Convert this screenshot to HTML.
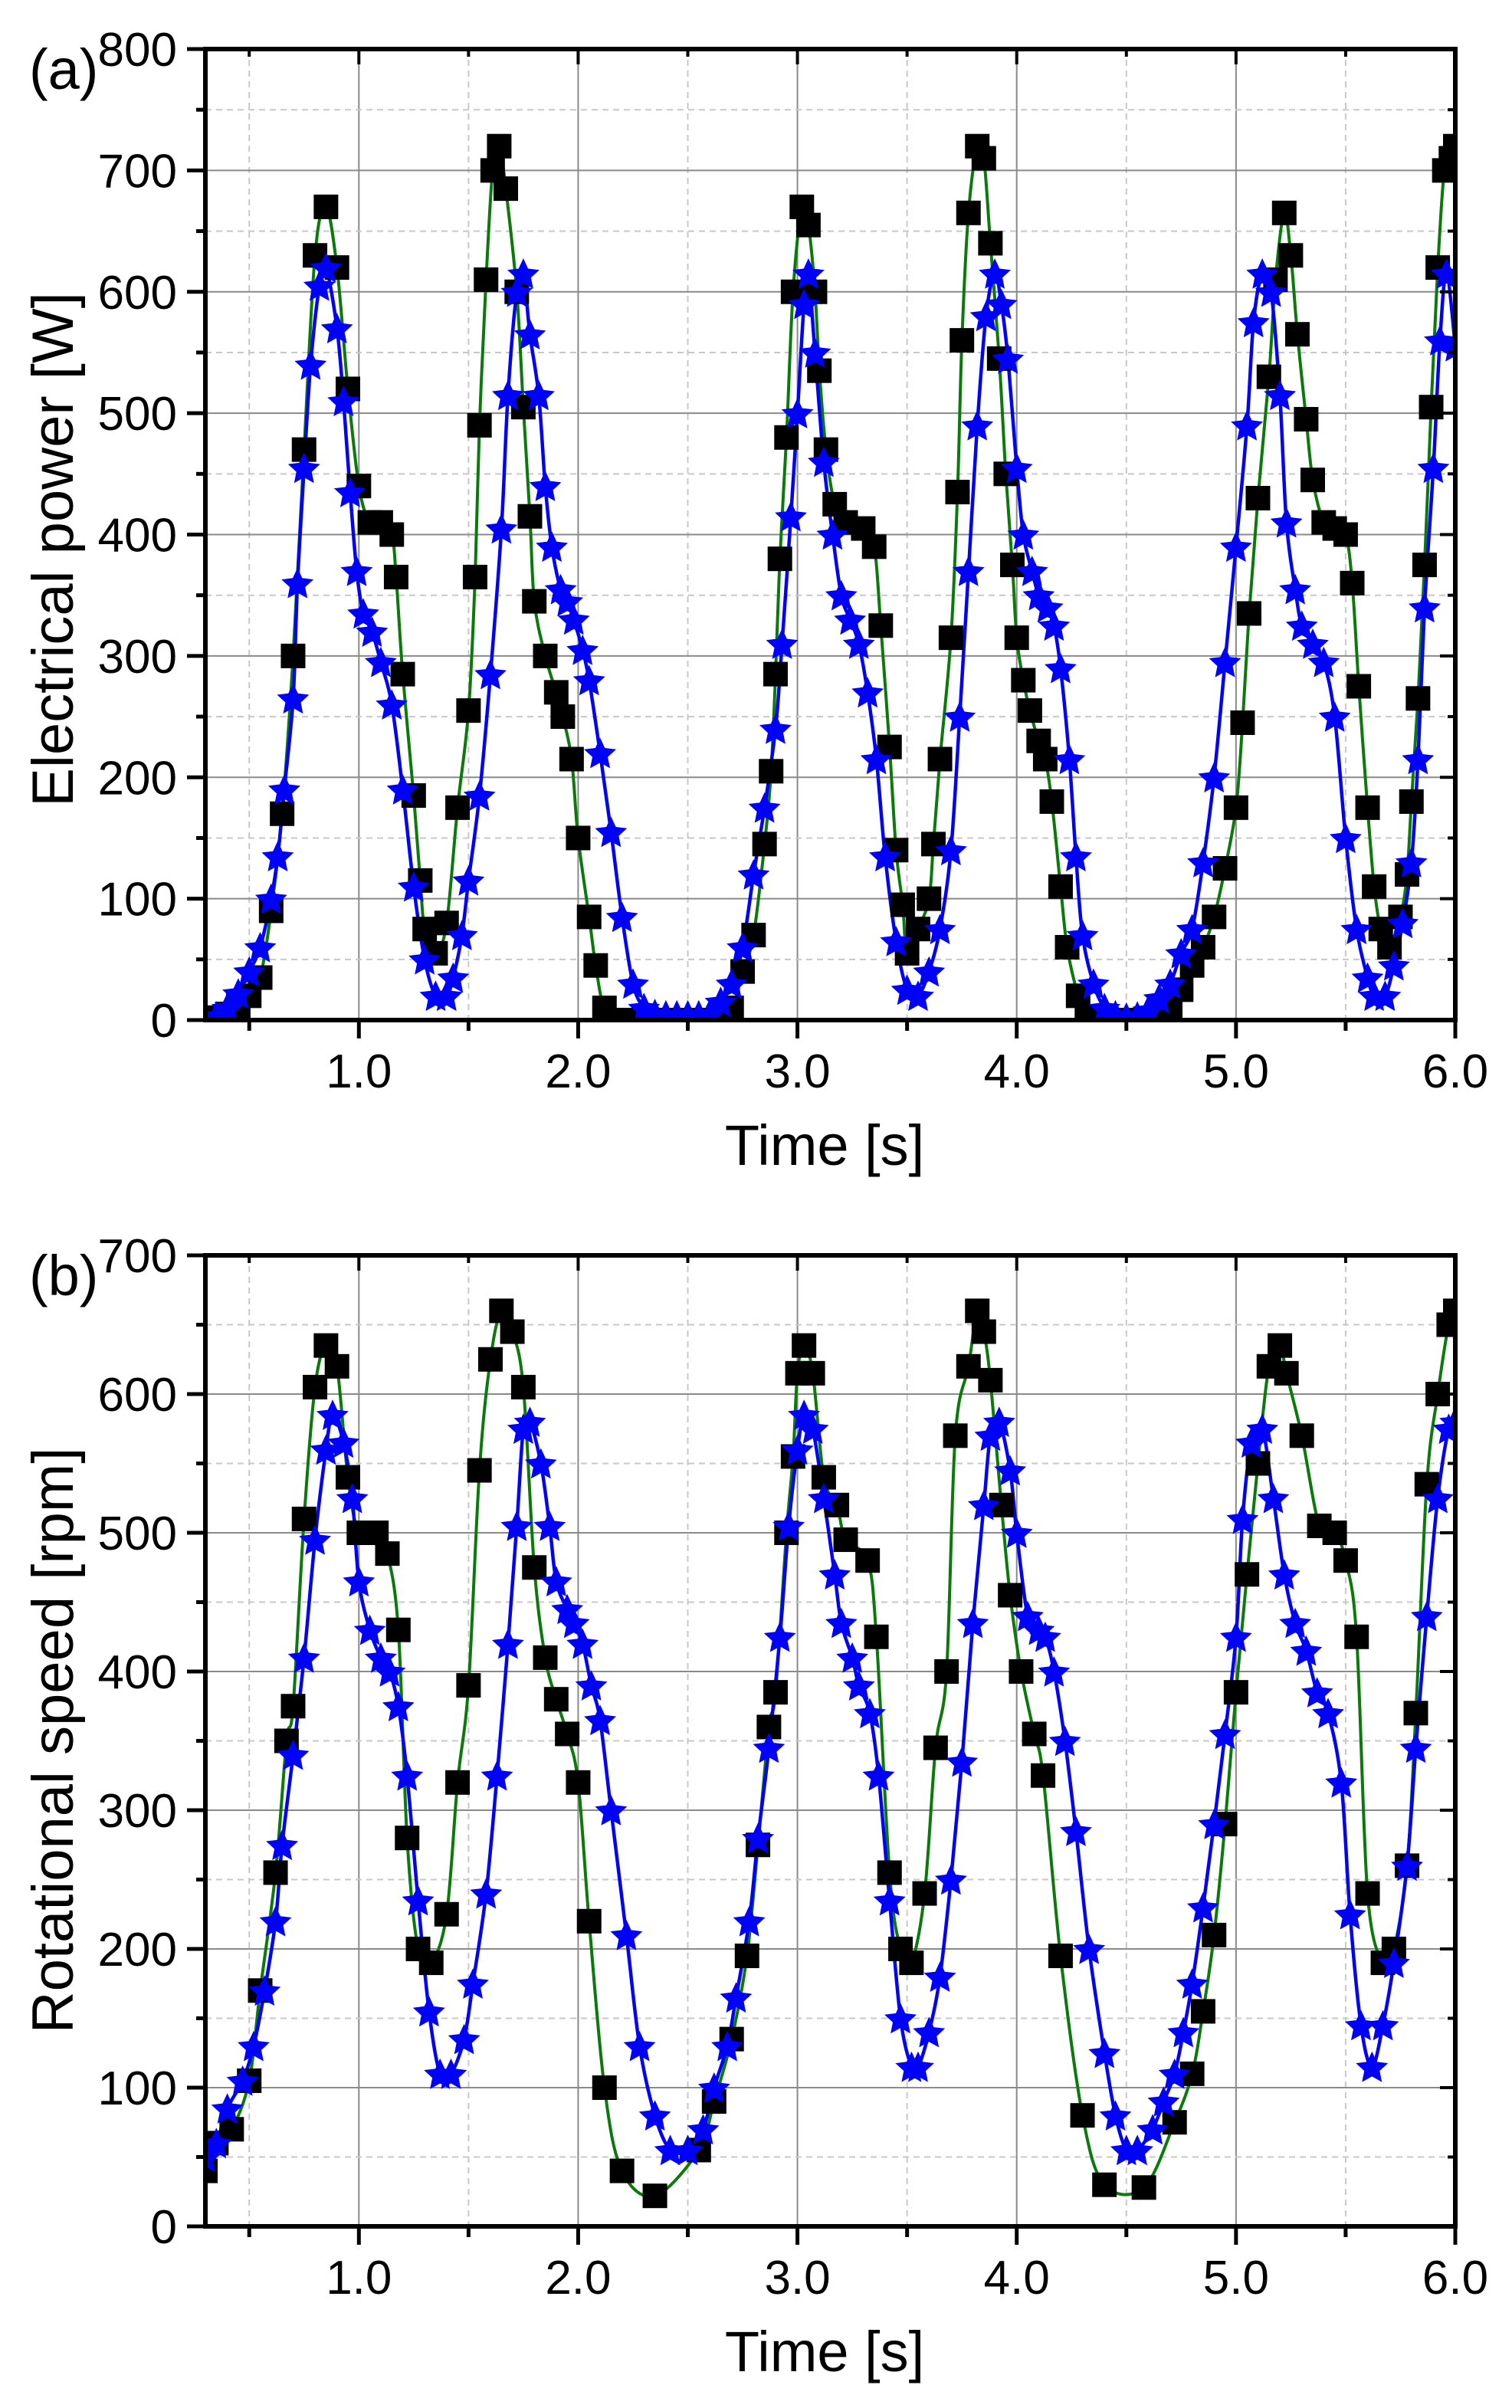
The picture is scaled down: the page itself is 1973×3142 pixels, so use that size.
<!DOCTYPE html>
<html><head><meta charset="utf-8">
<style>
html,body{margin:0;padding:0;background:#fff;}
svg{display:block;font-family:"Liberation Sans",Arial,sans-serif;}
</style></head>
<body>
<svg id="fig" width="1973" height="3142" viewBox="0 0 1973 3142" xmlns="http://www.w3.org/2000/svg">
<rect width="1973" height="3142" fill="#fff"/>
</svg>
<script>
// ---------- data ----------
const aSqT = [0.3,0.35,0.4,0.45,0.5,0.55,0.6,0.65,0.7,0.75,0.8,0.85,0.9,0.95,1.0,1.05,1.1,1.15,1.17,1.2,1.25,1.28,1.3,1.35,1.4,1.45,1.5,1.53,1.55,1.58,1.61,1.64,1.67,1.72,1.75,1.78,1.8,1.85,1.9,1.93,1.97,2.0,2.05,2.08,2.12,2.2,2.3,2.4,2.5,2.6,2.7,2.75,2.8,2.85,2.88,2.9,2.92,2.95,2.98,3.02,3.05,3.08,3.1,3.13,3.17,3.22,3.3,3.35,3.38,3.42,3.45,3.48,3.5,3.55,3.6,3.62,3.65,3.7,3.73,3.75,3.78,3.82,3.85,3.88,3.92,3.95,3.98,4.0,4.03,4.06,4.1,4.13,4.16,4.2,4.23,4.28,4.32,4.4,4.5,4.6,4.7,4.75,4.8,4.85,4.9,4.95,5.0,5.03,5.06,5.1,5.15,5.18,5.22,5.25,5.28,5.32,5.35,5.4,5.45,5.5,5.53,5.56,5.6,5.63,5.66,5.7,5.75,5.78,5.8,5.83,5.86,5.89,5.92,5.95,5.98,6.0];
const aSqV = [0,2,5,12,20,35,90,170,300,470,630,670,620,520,440,410,410,400,365,285,185,115,75,55,80,175,255,365,490,610,700,720,685,600,505,415,345,300,270,250,215,150,85,45,10,0,0,0,0,0,10,40,70,145,205,285,380,480,600,670,655,600,535,470,425,410,405,390,325,225,140,95,55,75,100,145,215,315,435,560,665,720,710,640,545,450,375,315,280,255,230,215,180,110,60,20,2,0,0,0,10,25,45,60,85,125,175,245,335,430,530,610,665,630,565,495,445,410,405,400,360,275,175,110,75,60,85,120,180,265,375,505,620,700,710,720];
const aStT = [0.3,0.35,0.4,0.45,0.5,0.55,0.6,0.63,0.66,0.7,0.72,0.75,0.78,0.82,0.85,0.9,0.93,0.96,0.99,1.02,1.06,1.1,1.15,1.2,1.25,1.3,1.35,1.4,1.43,1.47,1.5,1.55,1.6,1.65,1.68,1.72,1.75,1.78,1.82,1.85,1.88,1.92,1.95,1.98,2.02,2.05,2.1,2.15,2.2,2.25,2.3,2.35,2.4,2.45,2.5,2.55,2.6,2.65,2.7,2.75,2.8,2.85,2.9,2.93,2.97,3.0,3.03,3.05,3.08,3.12,3.16,3.2,3.24,3.28,3.32,3.36,3.4,3.45,3.5,3.55,3.6,3.65,3.7,3.74,3.78,3.82,3.86,3.9,3.93,3.96,4.0,4.03,4.07,4.1,4.14,4.17,4.2,4.24,4.27,4.3,4.35,4.4,4.45,4.5,4.55,4.6,4.65,4.7,4.75,4.8,4.85,4.9,4.95,5.0,5.05,5.08,5.12,5.16,5.2,5.23,5.27,5.3,5.35,5.4,5.45,5.5,5.55,5.6,5.63,5.68,5.72,5.76,5.8,5.83,5.86,5.9,5.93,5.96,6.0];
const aStV = [0,3,10,22,40,60,100,135,190,265,360,455,540,605,620,570,510,435,370,335,320,295,260,190,110,50,20,20,35,70,115,185,285,405,515,600,615,565,515,440,390,355,345,330,305,280,220,155,85,30,10,5,4,4,4,4,5,15,30,60,120,175,240,310,415,500,590,615,550,460,400,350,330,310,270,215,135,65,25,20,40,75,140,250,370,490,580,615,590,545,455,400,370,350,340,325,290,215,135,70,30,10,4,2,3,8,18,30,55,75,130,200,295,390,490,575,615,600,515,410,355,325,310,295,250,150,75,35,20,20,45,80,130,215,340,455,560,615,555];
const bSqT = [0.3,0.35,0.42,0.5,0.55,0.62,0.67,0.7,0.75,0.8,0.85,0.9,0.95,1.0,1.08,1.13,1.18,1.22,1.27,1.33,1.4,1.45,1.5,1.55,1.6,1.65,1.7,1.75,1.8,1.85,1.9,1.95,2.0,2.05,2.12,2.2,2.35,2.55,2.62,2.7,2.77,2.82,2.87,2.9,2.95,2.98,3.0,3.03,3.07,3.12,3.18,3.22,3.32,3.36,3.42,3.47,3.52,3.58,3.63,3.68,3.72,3.78,3.82,3.85,3.88,3.93,3.97,4.02,4.08,4.12,4.2,4.3,4.4,4.58,4.72,4.8,4.85,4.9,4.95,5.0,5.05,5.1,5.15,5.2,5.23,5.3,5.38,5.45,5.5,5.55,5.6,5.67,5.72,5.78,5.82,5.87,5.92,5.97,6.0];
const bSqV = [40,60,70,105,170,255,350,375,510,605,635,620,540,500,500,485,430,280,200,190,225,320,390,545,625,660,645,605,475,410,380,355,320,220,100,40,22,55,90,135,195,275,360,385,500,555,615,635,615,540,520,495,480,425,255,200,190,240,345,400,570,620,660,645,610,520,455,400,355,325,195,80,30,28,75,110,155,210,290,385,470,550,620,635,615,570,505,500,480,425,240,190,200,260,370,535,600,650,660];
const bStT = [0.3,0.35,0.4,0.47,0.52,0.57,0.62,0.65,0.7,0.75,0.8,0.85,0.88,0.93,0.97,1.0,1.05,1.1,1.14,1.18,1.22,1.27,1.32,1.37,1.42,1.48,1.52,1.58,1.63,1.68,1.72,1.75,1.78,1.83,1.87,1.9,1.95,1.98,2.02,2.06,2.1,2.15,2.22,2.28,2.35,2.42,2.5,2.57,2.62,2.68,2.72,2.78,2.82,2.87,2.92,2.96,3.0,3.03,3.07,3.12,3.17,3.2,3.25,3.28,3.33,3.37,3.42,3.47,3.52,3.55,3.6,3.65,3.7,3.75,3.8,3.85,3.88,3.92,3.97,4.0,4.05,4.1,4.13,4.17,4.22,4.27,4.33,4.4,4.45,4.5,4.55,4.62,4.67,4.72,4.76,4.8,4.85,4.9,4.95,5.0,5.03,5.07,5.12,5.17,5.22,5.27,5.32,5.37,5.42,5.48,5.52,5.57,5.62,5.67,5.72,5.78,5.82,5.87,5.92,5.97,6.0];
const bStV = [50,60,85,105,130,170,220,275,340,410,495,560,585,565,525,465,430,410,400,375,325,235,155,110,110,135,175,240,325,420,505,575,580,550,505,465,445,435,420,390,365,300,210,130,80,55,55,70,100,130,165,220,280,345,425,505,560,585,575,525,470,435,410,390,370,325,235,150,115,115,140,180,250,335,435,520,570,580,545,500,440,430,425,400,350,285,200,125,80,55,55,70,90,110,140,175,230,290,355,425,510,565,575,525,470,435,415,385,370,320,225,145,115,145,190,260,345,440,525,575,580];
const xTicks = [1.0,2.0,3.0,4.0,5.0,6.0];
const xTickLabels = ["1.0","2.0","3.0","4.0","5.0","6.0"];
const aYTicks = [0,100,200,300,400,500,600,700,800];
const bYTicks = [0,100,200,300,400,500,600,700];

// ---------- drawing ----------
const NS = "http://www.w3.org/2000/svg";
const svg = document.getElementById("fig");
function mk(tag, attrs, parent){
  const e = document.createElementNS(NS, tag);
  for (const k in attrs) e.setAttribute(k, attrs[k]);
  (parent||svg).appendChild(e);
  return e;
}
function spline(pts){
  let d = "M" + pts[0][0].toFixed(1) + "," + pts[0][1].toFixed(1);
  for (let i=0;i<pts.length-1;i++){
    const p0=pts[Math.max(0,i-1)], p1=pts[i], p2=pts[i+1], p3=pts[Math.min(pts.length-1,i+2)];
    const c1x=p1[0]+(p2[0]-p0[0])/6, c1y=p1[1]+(p2[1]-p0[1])/6;
    const c2x=p2[0]-(p3[0]-p1[0])/6, c2y=p2[1]-(p3[1]-p1[1])/6;
    d += "C"+c1x.toFixed(1)+","+c1y.toFixed(1)+" "+c2x.toFixed(1)+","+c2y.toFixed(1)+" "+p2[0].toFixed(1)+","+p2[1].toFixed(1);
  }
  return d;
}
function starPath(cx, cy, R){
  const r = R*0.48; let d="";
  for (let i=0;i<10;i++){
    const a = -Math.PI/2 + i*Math.PI/5, rr = i%2? r : R;
    d += (i?"L":"M") + (cx+rr*Math.cos(a)).toFixed(1) + "," + (cy+rr*Math.sin(a)).toFixed(1);
  }
  return d+"Z";
}

function panel(opt){
  const L=268, R=1899, T=opt.top, B=opt.bottom;
  const xMin=0.3, xMax=6.0, yMax=opt.yMax;
  const sx = t => L + (t-xMin)/(xMax-xMin)*(R-L);
  const sy = v => B - v/yMax*(B-T);
  const g = mk("g", {});
  
  
  const grid = mk("g", {}, g);
  
  
  for (let t=0.5; t<xMax; t+=0.5){
    const major = Math.abs(t-Math.round(t))<1e-6;
    mk("line",{x1:sx(t),x2:sx(t),y1:T,y2:B,stroke:major?"#8a8a8a":"#c8c8c8","stroke-width":2,"stroke-dasharray":major?"none":"8,6"},grid);
  }
  for (let v=50; v<yMax; v+=50){
    const major = v%100===0;
    mk("line",{x1:L,x2:R,y1:sy(v),y2:sy(v),stroke:major?"#8a8a8a":"#c8c8c8","stroke-width":2,"stroke-dasharray":major?"none":"8,6"},grid);
  }
  const cid = "clip"+opt.id;
  const cp = mk("clipPath",{id:cid},g);
  mk("rect",{x:L,y:T-20,width:R-L,height:B-T+22},cp);
  const data = mk("g",{"clip-path":"url(#"+cid+")"},g);
  const gl = mk("path",{d:spline(opt.sqT.map((t,i)=>[sx(t),sy(opt.sqV[i])])),fill:"none",stroke:"#0a7a0a","stroke-width":4},data);
  
  
  const bl = mk("path",{d:spline(opt.stT.map((t,i)=>[sx(t),sy(opt.stV[i])])),fill:"none",stroke:"#0000ff","stroke-width":4.5},data);
  
  
  opt.sqT.forEach((t,i)=>{
    const r = mk("rect",{x:sx(t)-16,y:sy(opt.sqV[i])-16,width:32,height:32,fill:"#000"},data);
    
    
  });
  opt.stT.forEach((t,i)=>{
    const s = mk("path",{d:starPath(sx(t),sy(opt.stV[i])+2,22),fill:"#0000ff"},data);
    
    
  });
  const ax = mk("g",{stroke:"#000","stroke-width":6,fill:"none"},g);
  
  
  mk("rect",{x:L,y:T,width:R-L,height:B-T},ax);
  for (let t=0.5; t<=xMax+1e-6; t+=0.5){
    const major = Math.abs(t-Math.round(t))<1e-6;
    mk("line",{x1:sx(t),x2:sx(t),y1:B,y2:B+(major?24:14),"stroke-width":5},ax);
    mk("line",{x1:sx(t),x2:sx(t),y1:T,y2:T+(major?20:10),"stroke-width":4},ax);
  }
  for (let v=0; v<=yMax; v+=50){
    const major = v%100===0;
    mk("line",{x1:L,x2:L-(major?24:12),y1:sy(v),y2:sy(v),"stroke-width":5},ax);
    mk("line",{x1:R,x2:R-(major?20:10),y1:sy(v),y2:sy(v),"stroke-width":4},ax);
  }
  xTicks.forEach((t,i)=>{
    const tx = mk("text",{x:sx(t),y:B+88,"font-size":62,"text-anchor":"middle",fill:"#000"},g);
    tx.textContent = xTickLabels[i];
    
    
  });
  opt.yTicks.forEach(v=>{
    const tx = mk("text",{x:231,y:sy(v)+22,"font-size":62,"text-anchor":"end",fill:"#000"},g);
    tx.textContent = String(v);
    
    
  });
  const xt = mk("text",{x:1076,y:B+189,"font-size":74,"text-anchor":"middle",fill:"#000"},g);
  xt.textContent = "Time [s]";
  
  
  const yt = mk("text",{x:0,y:0,"font-size":76,"text-anchor":"middle",fill:"#000",transform:"translate(95,"+opt.yTitleY+") rotate(-90)"},g);
  yt.textContent = opt.yTitle;
  
  
  const pl = mk("text",{x:38,y:T+52,"font-size":74,fill:"#000"},g);
  pl.textContent = opt.label;
  
  
}
panel({id:"a",name:"panel-a-power",top:64,bottom:1331,yMax:800,yTicks:aYTicks,sqT:aSqT,sqV:aSqV,stT:aStT,stV:aStV,yTitle:"Electrical power [W]",yTitleY:717,label:"(a)"});
panel({id:"b",name:"panel-b-speed",top:1638,bottom:2905,yMax:700,yTicks:bYTicks,sqT:bSqT,sqV:bSqV,stT:bStT,stV:bStV,yTitle:"Rotational speed [rpm]",yTitleY:2271,label:"(b)"});
</script>
</body></html>
